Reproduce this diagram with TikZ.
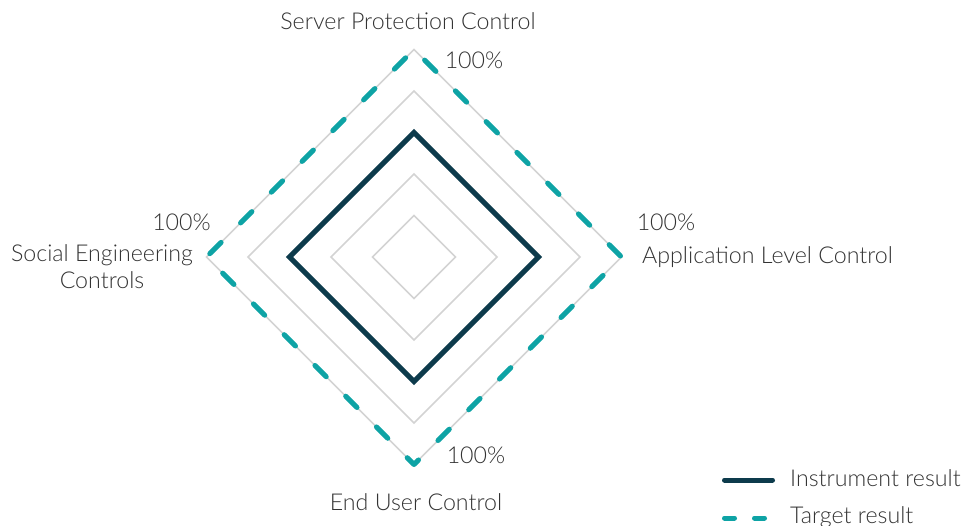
\documentclass[tikz,border=0pt]{standalone}
\usepackage{fontspec}
\setmainfont{Lato}[UprightFont=* Light]
\usepackage{xcolor}
\usetikzlibrary{calc}

\definecolor{instrcol}{HTML}{0D3B4C}
\definecolor{targetcol}{HTML}{0EA3A5}
\definecolor{gridcol}{HTML}{D3D3D3}
\definecolor{txtcol}{HTML}{333333}

\begin{document}
\begin{tikzpicture}[x=1bp,y=-1bp,
  lbl/.style={text=txtcol,font=\fontsize{23.3}{27.3}\selectfont,inner sep=0pt},
  grid/.style={gridcol,line width=1.5bp},
  instr/.style={instrcol,line width=5bp,line join=miter},
  target/.style={targetcol,line width=5bp,line cap=round,line join=round,
    dash pattern=on 16bp off 27.5bp,dash phase=28.5bp}]

\useasboundingbox (0,0) rectangle (967,526);

% centre of the chart
\coordinate (c) at (414,257);

% grid: 20% steps, outer one is 100%
\foreach \r in {41.5,83,124.5,166,207.5}
  \draw[grid] ($(c)+(0,-\r)$) -- ($(c)+(\r,0)$) -- ($(c)+(0,\r)$) -- ($(c)+(-\r,0)$) -- cycle;

% target result (100% on every axis)
\coordinate (t1) at ($(c)+(0,-207.5)$);
\coordinate (t2) at ($(c)+(207.5,0)$);
\coordinate (t3) at ($(c)+(0,207.5)$);
\coordinate (t4) at ($(c)+(-207.5,0)$);
\draw[target] (t1) -- (t2) -- (t3) -- (t4) -- cycle;

% instrument result (60%)
\coordinate (i1) at ($(c)+(0,-124.5)$);
\coordinate (i2) at ($(c)+(124.5,0)$);
\coordinate (i3) at ($(c)+(0,124.5)$);
\coordinate (i4) at ($(c)+(-124.5,0)$);
\draw[instr] (i1) -- (i2) -- (i3) -- (i4) -- cycle;

% axis labels
\node[lbl,anchor=base] (server) at (408,29.3) {Server Protection Control};
\node[lbl,anchor=base west] (appl) at (642,263.3) {Application Level Control};
\node[lbl,anchor=base] (enduser) at (416,510) {End User Control};
\node[lbl,anchor=base,align=center] (social) at (102,288.3) {Social Engineering\\Controls};

% values
\node[lbl,anchor=base] (pcttop) at (474,68.3) {100\%};
\node[lbl,anchor=base] (pctright) at (666,230.7) {100\%};
\node[lbl,anchor=base] (pctbottom) at (476,463.3) {100\%};
\node[lbl,anchor=base] (pctleft) at (181.5,230.7) {100\%};

% legend
\coordinate (l1) at (724.5,480);
\coordinate (l2) at (772.5,480);
\coordinate (l3) at (724.5,518);
\coordinate (l4) at (765.5,518);
\draw[instr,line cap=round] (l1) -- (l2);
\draw[target,dash pattern=on 10bp off 20bp,dash phase=0bp] (l3) -- (l4);
\node[lbl,anchor=base west] (instrtxt) at (790,486) {Instrument result};
\node[lbl,anchor=base west] (targettxt) at (790,523) {Target result};

\end{tikzpicture}
\end{document}
